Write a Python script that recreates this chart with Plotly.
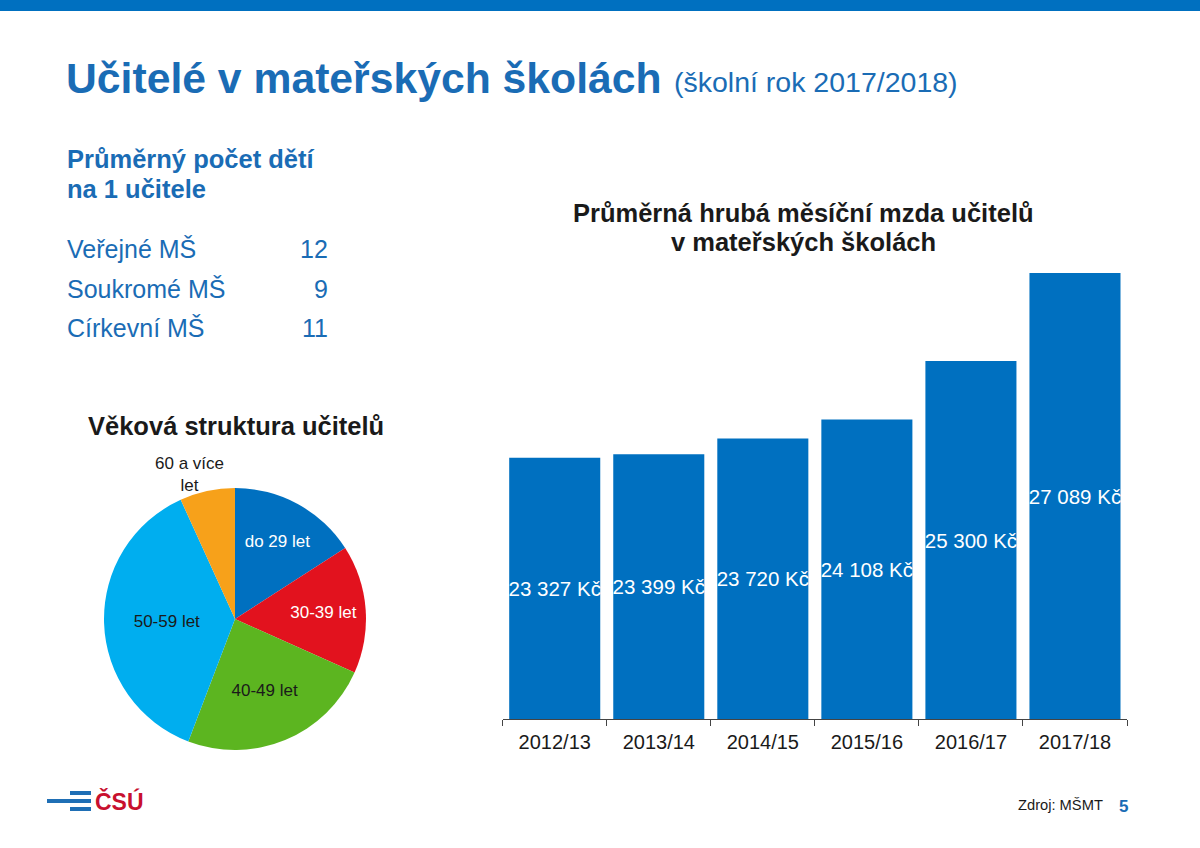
import plotly.graph_objects as go

## values
years = ["2012/13", "2013/14", "2014/15", "2015/16", "2016/17", "2017/18"]
wages = [23327, 23399, 23720, 24108, 25300, 27089]

age_groups = ["do 29 let", "30-39 let", "40-49 let", "50-59 let", "60 a více let"]
age_share = [15.9, 15.8, 24.1, 37.4, 6.8]

school_types = ["Veřejné MŠ", "Soukromé MŠ", "Církevní MŠ"]
kids_per_teacher = [12, 9, 11]

W, H = 1200, 848
BLUE = "#0070C0"
TXT_BLUE = "#1A6CB5"
FONT = "Liberation Sans, Arial, sans-serif"
wage_base = 18000  # the wage axis starts here, not at zero


## helpers: slide pixels -> paper coordinates
def px(x):
    return x / W


def py(y):
    return 1 - y / H


fig = go.Figure()

## wage bars
wage_text = [f"{w:,} Kč".replace(",", " ") for w in wages]
fig.add_trace(go.Bar(
    x=years, y=[w - wage_base for w in wages], base=wage_base,
    marker=dict(color=BLUE, line=dict(width=0)),
    text=wage_text, textposition="inside", insidetextanchor="middle",
    textangle=0, constraintext="none",
    textfont=dict(color="white", size=20.5, family=FONT),
    customdata=wage_text, hovertemplate="%{x}: %{customdata}<extra></extra>",
    showlegend=False,
))

## age pie
pie_colors = ["#0070C0", "#E2121E", "#5CB520", "#00AEEF", "#F7A11A"]
pie_text_colors = ["white", "white", "#1a1a1a", "#1a1a1a", "#1a1a1a"]
fig.add_trace(go.Pie(
    labels=age_groups, values=age_share, sort=False, direction="clockwise", rotation=0,
    marker=dict(colors=pie_colors, line=dict(width=0)),
    texttemplate=["%{label}"] * 4 + [""], textposition="inside",
    insidetextorientation="horizontal",
    textfont=dict(size=17, color=pie_text_colors, family=FONT),
    domain=dict(x=[px(104), px(366)], y=[py(750), py(488)]),
    hovertemplate="%{label}: %{value}%<extra></extra>",
    showlegend=False,
))

fig.update_layout(
    width=W, height=H,
    margin=dict(l=0, r=0, t=0, b=0),
    paper_bgcolor="white", plot_bgcolor="white",
    font=dict(family=FONT, color="#1a1a1a"),
    bargap=0.125,
    xaxis=dict(domain=[px(502.7), px(1127)], tickson="boundaries", ticks="outside", ticklen=6,
               tickcolor="#444", showline=True, linecolor="#444", linewidth=1,
               ticklabelstandoff=5,
               showgrid=False, tickfont=dict(size=20, color="#1a1a1a"), fixedrange=True),
    yaxis=dict(domain=[py(719.3), py(228.4)], range=[wage_base, 28000], visible=False, fixedrange=True),
)

## top stripe and logo bars
shapes = [dict(type="rect", xref="paper", yref="paper", x0=0, x1=1, y0=py(11), y1=1,
               fillcolor=BLUE, line_width=0)]
for x0, y0, y1 in [(70, 791, 795), (47, 799, 803), (70, 807, 811)]:
    shapes.append(dict(type="rect", xref="paper", yref="paper", x0=px(x0), x1=px(91),
                       y0=py(y1), y1=py(y0), fillcolor="#1F6FB5", line_width=0))
fig.update_layout(shapes=shapes)


def note(text, x, y, size, color="#1a1a1a", xanchor="left", bold=False):
    if bold:
        text = f"<b>{text}</b>"
    fig.add_annotation(text=text, x=px(x), y=py(y), xref="paper", yref="paper",
                       xanchor=xanchor, yanchor="middle", showarrow=False,
                       font=dict(size=size, color=color, family=FONT))


## headings
note("Učitelé v mateřských školách", 64, 78, 42.7, TXT_BLUE, bold=True)
note("(školní rok 2017/2018)", 672, 82, 28.5, TXT_BLUE)

note("Průměrný počet dětí", 65, 159, 25.5, TXT_BLUE, bold=True)
note("na 1 učitele", 65, 189, 25.5, TXT_BLUE, bold=True)

for i, (name, val) in enumerate(zip(school_types, kids_per_teacher)):
    yy = 249 + i * 39.5
    note(name, 65, yy, 25, TXT_BLUE)
    note(str(val), 330, yy, 25, TXT_BLUE, xanchor="right")

note("Věková struktura učitelů", 236, 426, 25.5, bold=True, xanchor="center")
note("60 a více<br>let", 189, 474, 17, xanchor="center")

note("Průměrná hrubá měsíční mzda učitelů", 803, 213, 25.5, bold=True, xanchor="center")
note("v mateřských školách", 803, 242, 25.5, bold=True, xanchor="center")

## footer
note("ČSÚ", 93, 801, 23, "#C8102E", bold=True)
note("Zdroj: MŠMT", 1016, 805, 14.7)
note("5", 1123, 806, 17, TXT_BLUE, xanchor="center", bold=True)

## page body has a default 8px margin, drop it so the slide sits at 0,0
fig.write_html("out.html", config={"displayModeBar": False},
               post_script="document.body.style.margin='0';")
